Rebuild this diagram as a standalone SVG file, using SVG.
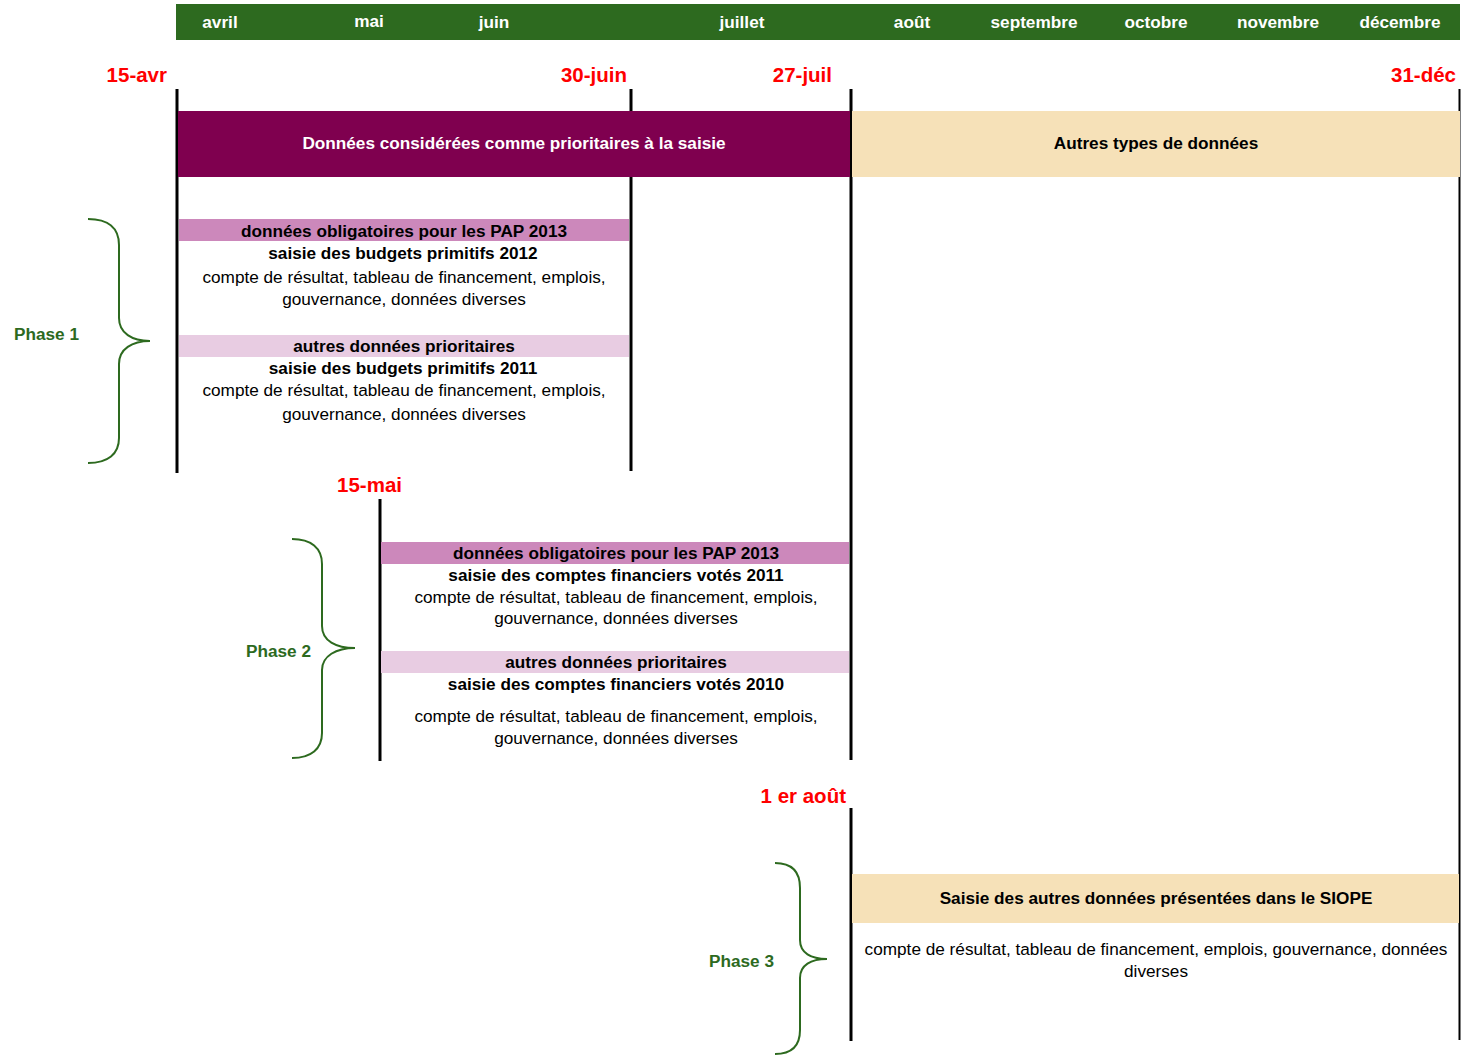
<svg xmlns="http://www.w3.org/2000/svg" width="1461" height="1056" viewBox="0 0 1461 1056">
<style>
.m{font-family:"Liberation Sans",Arial,sans-serif;font-weight:bold;font-size:17.2px;fill:#fff;text-anchor:middle}
.d{font-family:"Liberation Sans",Arial,sans-serif;font-weight:bold;font-size:20.5px;fill:#ff0000;text-anchor:end}
.b{font-family:"Liberation Sans",Arial,sans-serif;font-weight:bold;font-size:17.2px;fill:#000;text-anchor:middle}
.r{font-family:"Liberation Sans",Arial,sans-serif;font-size:17.2px;fill:#000;text-anchor:middle}
.p{font-family:"Liberation Sans",Arial,sans-serif;font-weight:bold;font-size:17.2px;fill:#2d6a1f}
.v{stroke:#000;stroke-width:3;fill:none}
.br{stroke:#2d6a1f;stroke-width:2;fill:none}
</style>
<rect width="1461" height="1056" fill="#fff"/>
<g id="header">
<rect x="176" y="4" width="1284" height="36" fill="#2d6a1f"/>
<text class="m" x="220" y="28">avril</text>
<text class="m" x="369" y="27">mai</text>
<text class="m" x="494" y="28">juin</text>
<text class="m" x="742" y="28">juillet</text>
<text class="m" x="912" y="28">août</text>
<text class="m" x="1034" y="28">septembre</text>
<text class="m" x="1156" y="28">octobre</text>
<text class="m" x="1278" y="28">novembre</text>
<text class="m" x="1400" y="28">décembre</text>
</g>
<g id="dates">
<text class="d" x="167" y="82">15-avr</text>
<text class="d" x="627" y="82">30-juin</text>
<text class="d" x="832" y="82">27-juil</text>
<text class="d" x="1456" y="82">31-déc</text>
<text class="d" x="402" y="492">15-mai</text>
<text class="d" x="846" y="803">1 er août</text>
</g>
<g id="connectors">
<line class="v" x1="177" y1="89" x2="177" y2="473"/>
<line class="v" x1="631" y1="89" x2="631" y2="471"/>
<line class="v" x1="851" y1="89" x2="851" y2="760"/>
<line x1="1459.5" y1="89" x2="1459.5" y2="1040" stroke="#000" stroke-width="2"/>
<line class="v" x1="380" y1="499" x2="380" y2="761"/>
<line class="v" x1="851" y1="808" x2="851" y2="1041"/>
</g>
<g id="prioritaires">
<rect x="178" y="111" width="672" height="66" fill="#7f004f"/>
<text class="m" x="514" y="149">Données considérées comme prioritaires à la saisie</text>
</g>
<g id="autres">
<rect x="852" y="111" width="608" height="66" fill="#f6e1b8"/>
<text class="b" x="1156" y="149">Autres types de données</text>
</g>
<g id="phase1">
<rect x="179" y="219" width="450" height="22" fill="#cc88bb"/>
<text class="b" x="404" y="237">données obligatoires pour les PAP 2013</text>
<text class="b" x="403" y="259">saisie des budgets primitifs 2012</text>
<text class="r" x="404" y="283">compte de résultat, tableau de financement, emplois,</text>
<text class="r" x="404" y="305">gouvernance, données diverses</text>
<rect x="179" y="335" width="450" height="22" fill="#e8cce2"/>
<text class="b" x="404" y="352">autres données prioritaires</text>
<text class="b" x="403" y="374">saisie des budgets primitifs 2011</text>
<text class="r" x="404" y="396">compte de résultat, tableau de financement, emplois,</text>
<text class="r" x="404" y="420">gouvernance, données diverses</text>
<path class="br" d="M88,219 C108,219 119,228 119,245 L119,318 C119,333 132,341 150,341 C132,341 119,349 119,364 L119,438 C119,454 108,463 88,463"/>
<text class="p" x="14" y="340">Phase 1</text>
</g>
<g id="phase2">
<rect x="381" y="542" width="468" height="22" fill="#cc88bb"/>
<text class="b" x="616" y="559">données obligatoires pour les PAP 2013</text>
<text class="b" x="616" y="581">saisie des comptes financiers votés 2011</text>
<text class="r" x="616" y="603">compte de résultat, tableau de financement, emplois,</text>
<text class="r" x="616" y="624">gouvernance, données diverses</text>
<rect x="381" y="651" width="468" height="22" fill="#e8cce2"/>
<text class="b" x="616" y="668">autres données prioritaires</text>
<text class="b" x="616" y="690">saisie des comptes financiers votés 2010</text>
<text class="r" x="616" y="722">compte de résultat, tableau de financement, emplois,</text>
<text class="r" x="616" y="744">gouvernance, données diverses</text>
<path class="br" d="M292,539 C311,539 322,548 322,564 L322,626 C322,641 336,648 355,648 C336,648 322,656 322,670 L322,733 C322,749 311,758 292,758"/>
<text class="p" x="246" y="657">Phase 2</text>
</g>
<g id="phase3">
<rect x="852" y="874" width="607" height="49" fill="#f6e1b8"/>
<text class="b" x="1156" y="904">Saisie des autres données présentées dans le SIOPE</text>
<text class="r" x="1156" y="955">compte de résultat, tableau de financement, emplois, gouvernance, données</text>
<text class="r" x="1156" y="977">diverses</text>
<path class="br" d="M775,863 C792,863 800,872 800,888 L800,940 C800,953 811,959 827,959 C811,959 800,965 800,978 L800,1030 C800,1045 792,1054 775,1054"/>
<text class="p" x="709" y="967">Phase 3</text>
</g>
</svg>
